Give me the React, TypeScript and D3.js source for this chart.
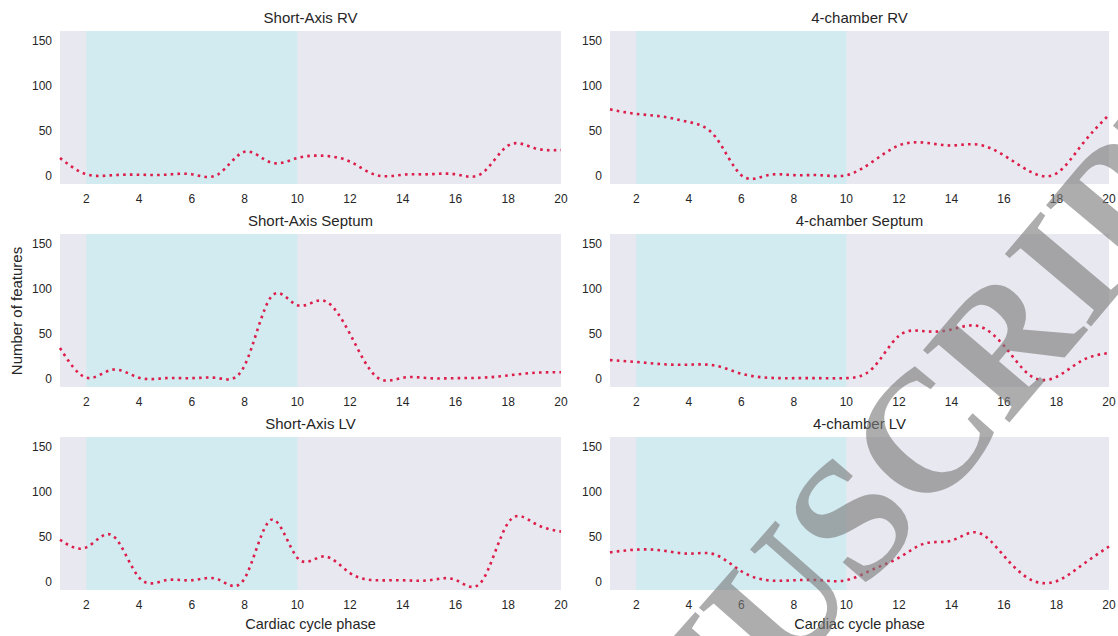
import React from 'react';
import * as d3 from 'd3';

const phases = [1, 2, 3, 4, 5, 6, 7, 8, 9, 10, 11, 12, 13, 14, 15, 16, 17, 18, 19, 20];
const xTicks = [2, 4, 6, 8, 10, 12, 14, 16, 18, 20];
const yTicks = [0, 50, 100, 150];
const shadeStart = 2;
const shadeEnd = 10;

const titles = [
  'Short-Axis RV',
  '4-chamber RV',
  'Short-Axis Septum',
  '4-chamber Septum',
  'Short-Axis LV',
  '4-chamber LV',
];

const shortAxisRV = [20, 2, 1, 1.5, 1.5, 2, 2, 27, 15, 20, 22.5, 16, 1, 1.5, 2, 2, 3, 34, 31, 29];
const fourChamberRV = [74, 69, 66, 60, 44, 1, 1, 1, 1, 1, 16, 34, 37, 34, 35, 23, 5, 3, 36, 68];
const shortAxisSeptum = [34.5, 1.5, 10.5, 1.5, 1, 1, 1, 15, 91, 82, 87, 50, 2.5, 1.5, 1, 1, 1.5, 4, 7, 7.5];
const fourChamberSeptum = [21, 19, 16.5, 16, 15, 6, 1.5, 1, 1, 1, 12, 48, 53, 55, 59, 37, 4, 2.5, 21, 29];
const shortAxisLV = [47, 38.5, 51.5, 5, 2, 2, 3, 4, 69, 27, 28.5, 10, 2, 2, 2, 2.5, 1, 66, 65, 56];
const fourChamberLV = [33, 36, 35, 31.5, 30.5, 12, 2, 2, 2, 2, 14, 27, 43, 46, 55, 29, 3, 1, 19.5, 39.5];

const seriesList = [shortAxisRV, fourChamberRV, shortAxisSeptum, fourChamberSeptum, shortAxisLV, fourChamberLV];

const watermarkText = 'MANUSCRIPT';

const colLeft = [60, 610];
const colWidth = [501, 499];
const rowTop = [31, 234, 437];
const panelH = 153;

const textColor = '#262626';

export default function App() {
  return (
    <svg
      width={1118}
      height={636}
      style={{ position: 'absolute', left: 0, top: 0 }}
      fontFamily="'Liberation Sans', Arial, sans-serif"
    >
      <rect x={0} y={0} width={1118} height={636} fill="#ffffff" />
      {seriesList.map((values, i) => {
        const col = i % 2;
        const row = Math.floor(i / 2);
        const x0 = colLeft[col];
        const w = colWidth[col];
        const top = rowTop[row];
        const x = d3.scaleLinear().domain([1, 20]).range([x0, x0 + w]);
        const y = d3.scaleLinear().domain([-8.8, 161]).range([top + panelH, top]);
        const line = d3
          .line<number>()
          .x((_, k) => x(phases[k]))
          .y((d) => y(d))
          .curve(d3.curveNatural);
        return (
          <g key={i}>
            <rect x={x0} y={top} width={w} height={panelH} fill="#e8e8f0" />
            <rect
              x={x(shadeStart)}
              y={top}
              width={x(shadeEnd) - x(shadeStart)}
              height={panelH}
              fill="#d1ebf1"
            />
            <path
              d={line(values) || ''}
              fill="none"
              stroke="#dc1e4b"
              strokeWidth={2.6}
              strokeDasharray="2.6 4.2"
            />
            <text
              x={x0 + w / 2}
              y={top - 8}
              textAnchor="middle"
              fontSize={15}
              fill={textColor}
            >
              {titles[i]}
            </text>
            {yTicks.map((t) => (
              <text
                key={'y' + t}
                x={x0 - 8}
                y={y(t)}
                dy="0.35em"
                textAnchor="end"
                fontSize={12}
                fill={textColor}
              >
                {t}
              </text>
            ))}
            {xTicks.map((t) => (
              <text
                key={'x' + t}
                x={x(t)}
                y={top + panelH + 15}
                dy="0.35em"
                textAnchor="middle"
                fontSize={12}
                fill={textColor}
              >
                {t}
              </text>
            ))}
            {row === 2 && (
              <text
                x={x0 + w / 2}
                y={629}
                textAnchor="middle"
                fontSize={14.5}
                fill={textColor}
              >
                Cardiac cycle phase
              </text>
            )}
          </g>
        );
      })}
      <text
        transform="translate(22,311) rotate(-90)"
        textAnchor="middle"
        fontSize={15}
        fill={textColor}
      >
        Number of features
      </text>
      <defs>
        <path id="wmPath" d="M 450 1052 Q 935 524 1324 46" />
      </defs>
      <text
        fontFamily="'Liberation Serif', 'Times New Roman', serif"
        fontWeight="bold"
        fontSize={172}
        fill="#7a7a7a"
        fillOpacity={0.62}
      >
        <textPath href="#wmPath" startOffset={83}>
          {watermarkText}
        </textPath>
      </text>
    </svg>
  );
}
